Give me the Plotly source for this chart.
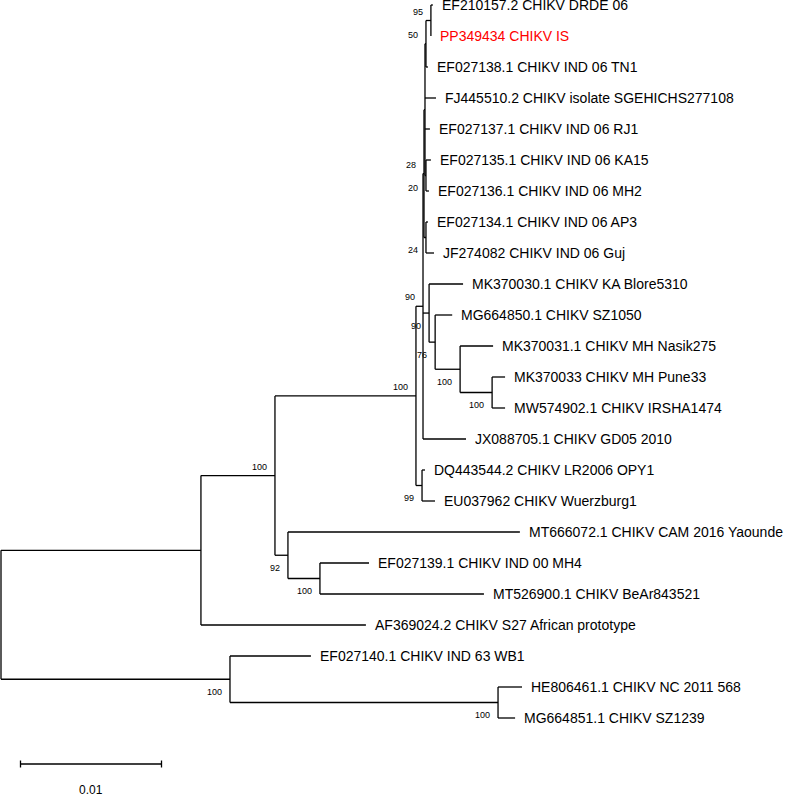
import plotly.graph_objects as go

# leaves, top to bottom as drawn
taxa = [
    "EF210157.2 CHIKV DRDE 06",
    "PP349434 CHIKV IS",
    "EF027138.1 CHIKV IND 06 TN1",
    "FJ445510.2 CHIKV isolate SGEHICHS277108",
    "EF027137.1 CHIKV IND 06 RJ1",
    "EF027135.1 CHIKV IND 06 KA15",
    "EF027136.1 CHIKV IND 06 MH2",
    "EF027134.1 CHIKV IND 06 AP3",
    "JF274082 CHIKV IND 06 Guj",
    "MK370030.1 CHIKV KA Blore5310",
    "MG664850.1 CHIKV SZ1050",
    "MK370031.1 CHIKV MH Nasik275",
    "MK370033 CHIKV MH Pune33",
    "MW574902.1 CHIKV IRSHA1474",
    "JX088705.1 CHIKV GD05 2010",
    "DQ443544.2 CHIKV LR2006 OPY1",
    "EU037962 CHIKV Wuerzburg1",
    "MT666072.1 CHIKV CAM 2016 Yaounde",
    "EF027139.1 CHIKV IND 00 MH4",
    "MT526900.1 CHIKV BeAr843521",
    "AF369024.2 CHIKV S27 African prototype",
    "EF027140.1 CHIKV IND 63 WB1",
    "HE806461.1 CHIKV NC 2011 568",
    "MG664851.1 CHIKV SZ1239",
]
taxon_parent = ["n8", "n8", "n7", "n6", "n6", "n9", "n9", "n10", "n10", "n11",
                "n12", "n13", "n14", "n14", "n4", "n15", "n15", "n16", "n17", "n17",
                "n1", "n18", "n19", "n19"]
taxon_branch = [0.00014, 0.0, 0.00014, 0.00078, 0.00035, 0.00035, 0.00021, 0.00014,
                0.00057, 0.00241, 0.00121, 0.00234, 0.00092, 0.00092, 0.00305,
                0.00021, 0.00092, 0.01645, 0.00348, 0.01163, 0.01170, 0.00574,
                0.00170, 0.00121]
highlight = "PP349434 CHIKV IS"

# internal nodes
clades = ["n0", "n1", "n2", "n3", "n4", "n5", "n6", "n7", "n8", "n9",
          "n10", "n11", "n12", "n13", "n14", "n15", "n16", "n17", "n18", "n19"]
clade_parent = [None, "n0", "n1", "n2", "n3", "n4", "n5", "n6", "n7", "n6",
                "n5", "n4", "n11", "n12", "n13", "n3", "n2", "n16", "n0", "n18"]
clade_branch = [0.0, 0.01418, 0.00525, 0.01000, 0.00050, 0.00007, 0.00007, 0.00007,
                0.00035, 0.00007, 0.00014, 0.00043, 0.00043, 0.00177, 0.00227,
                0.00043, 0.00092, 0.00227, 0.01624, 0.01901]
clade_support = [None, None, 100, 100, 90, 28, None, 50, 95, 20,
                 24, 90, 76, 100, 100, 99, 92, 100, 100, 100]

scale_length = 0.01
scale_label = "0.01"

# pixel geometry of the drawing
W, H = 787, 796
unit = scale_length / 141      # tree units per pixel
row_px, top_px = 31, 5

parent = dict(zip(taxa + clades, taxon_parent + clade_parent))
blen = dict(zip(taxa + clades, taxon_branch + clade_branch))
children = {c: [] for c in clades}
for n, p in parent.items():
    if p is not None:
        children[p].append(n)

depth = {}
def get_depth(n):
    if n not in depth:
        p = parent[n]
        depth[n] = 0.0 if p is None else get_depth(p) + blen[n]
    return depth[n]

ypos = {t: i for i, t in enumerate(taxa)}
def get_y(n):
    if n not in ypos:
        ys = [get_y(c) for c in children[n]]
        ypos[n] = (min(ys) + max(ys)) / 2
    return ypos[n]

xs, ys = [], []
for n in taxa + clades:
    d, y = get_depth(n), get_y(n)
    if parent[n] is not None:
        xs += [get_depth(parent[n]), d, None]
        ys += [y, y, None]
    if n in children:
        cy = [get_y(c) for c in children[n]]
        xs += [d, d, None]
        ys += [min(cy), max(cy), None]

fig = go.Figure()
fig.add_trace(go.Scatter(x=xs, y=ys, mode="lines",
                         line=dict(color="black", width=1.3),
                         hoverinfo="skip", showlegend=False))

annotations = []
for t in taxa:
    annotations.append(dict(
        x=get_depth(t), y=get_y(t), text=t, showarrow=False,
        xanchor="left", yanchor="middle", xshift=7,
        font=dict(family="Arial, Liberation Sans", size=14,
                  color="#ff0000" if t == highlight else "black")))

for c, s in zip(clades, clade_support):
    if s is None:
        continue
    upper = get_y(c) < get_y(parent[c])
    annotations.append(dict(
        x=get_depth(c), y=get_y(c), text=str(s), showarrow=False,
        xanchor="right", yanchor="middle", xshift=-6,
        yshift=9 if upper else -12.5,
        font=dict(family="Arial, Liberation Sans", size=9, color="black")))

# scale bar
sb_x0 = 19.5 * unit
sb_y = (764 - top_px) / row_px
tick = 3.5 / row_px
fig.add_trace(go.Scatter(
    x=[sb_x0, sb_x0 + scale_length, None, sb_x0, sb_x0, None,
       sb_x0 + scale_length, sb_x0 + scale_length],
    y=[sb_y, sb_y, None, sb_y - tick, sb_y + tick, None, sb_y - tick, sb_y + tick],
    mode="lines", line=dict(color="black", width=1.3),
    hoverinfo="skip", showlegend=False))
annotations.append(dict(
    x=sb_x0 + scale_length / 2, y=(790 - top_px) / row_px, text=scale_label,
    showarrow=False, xanchor="center", yanchor="middle",
    font=dict(family="Arial, Liberation Sans", size=12, color="black")))

fig.update_layout(
    width=W, height=H,
    margin=dict(l=0, r=0, t=0, b=0),
    paper_bgcolor="white", plot_bgcolor="white",
    annotations=annotations,
    xaxis=dict(range=[-1 * unit, (W - 1) * unit], visible=False),
    yaxis=dict(range=[(H - top_px) / row_px, -top_px / row_px], visible=False),
)

# drop the page's default body margin so the figure sits at the window corner
fig.write_html("out.html", config={"displayModeBar": False},
               post_script="document.body.style.margin='0';document.body.style.overflow='hidden';")
